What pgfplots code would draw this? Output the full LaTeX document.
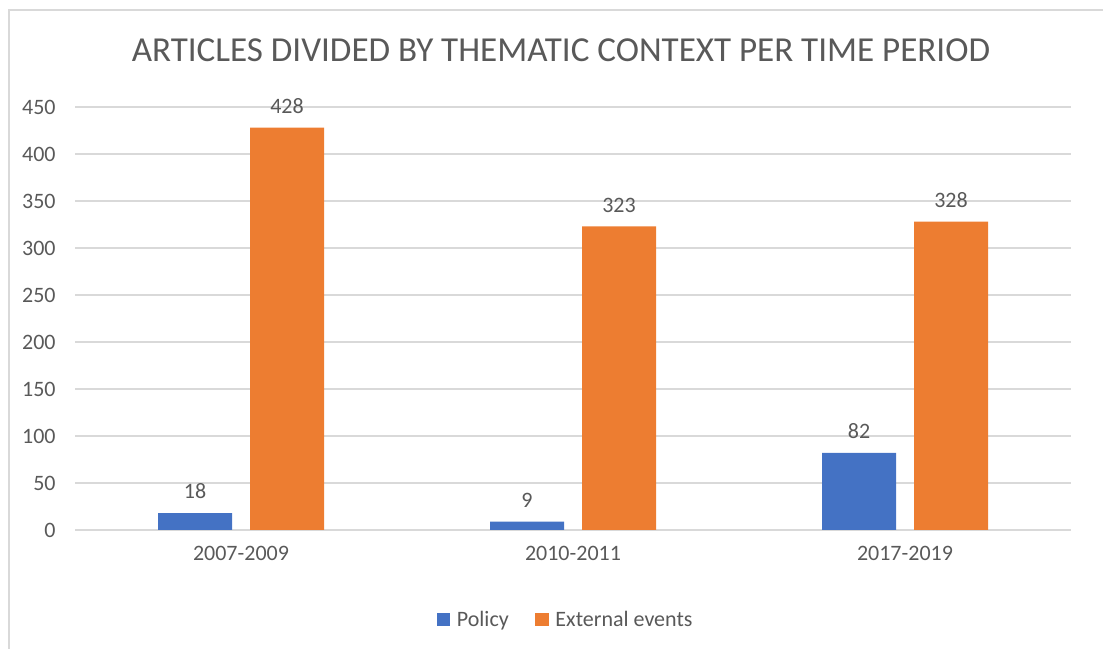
\documentclass[border=0pt]{standalone}
\usepackage{pgfplots}
\pgfplotsset{compat=1.18}
\usepackage{fontspec}
\setmainfont{Carlito}
\definecolor{cblue}{HTML}{4472C4}
\definecolor{corange}{HTML}{ED7D31}
\definecolor{ctext}{HTML}{595959}
\definecolor{cgrid}{HTML}{D9D9D9}
\begin{document}
\begin{tikzpicture}
\useasboundingbox (0,0) rectangle (827.25pt,486.75pt);
\draw[cgrid, line width=1.5pt] (6.75pt,0) -- (6.75pt,479.25pt) -- (827.25pt,479.25pt);
\node[text=ctext, font=\fontsize{26.3}{30}\selectfont] at (420.75pt,449.25pt) {ARTICLES DIVIDED BY THEMATIC CONTEXT PER TIME PERIOD};
\begin{axis}[
  at={(56.25pt,89.25pt)}, anchor=south west,
  scale only axis, width=747pt, height=317.25pt,
  ybar, bar width=55.5pt,
  xmin=-0.5, xmax=2.5, ymin=0, ymax=450,
  xtick=data, xticklabels={2007-2009,2010-2011,2017-2019},
  ytick={0,50,...,450},
  ymajorgrids, grid style={cgrid, line width=0.9pt},
  axis x line*=bottom, axis y line*=left,
  x axis line style={cgrid, line width=1pt},
  y axis line style={draw=none},
  major tick length=0pt,
  tick label style={text=ctext, font=\fontsize{16.5}{20}\selectfont},
  /pgf/number format/assume math mode=true,
  xticklabel style={yshift=-9pt},
  yticklabel style={xshift=-11pt},
  nodes near coords,
  nodes near coords style={text=ctext, font=\fontsize{16.5}{20}\selectfont, yshift=7pt},
  legend style={at={(0.493,-0.213)}, anchor=center, draw=none, legend columns=2,
    font=\fontsize{16.5}{20}\selectfont, text=ctext,
    /tikz/every even column/.append style={column sep=18pt}},
  legend image code/.code={\fill (0pt,-4.5pt) rectangle (10pt,5.5pt);},
  legend cell align=left,
]
\addplot[fill=cblue, draw=none, bar shift=-34.5pt] coordinates {(0,18) (1,9) (2,82)};
\addlegendentry{\hspace{3pt}Policy}
\addplot[fill=corange, draw=none, bar shift=34.5pt] coordinates {(0,428) (1,323) (2,328)};
\addlegendentry{\hspace{3pt}External events}
\end{axis}
\end{tikzpicture}
\end{document}
